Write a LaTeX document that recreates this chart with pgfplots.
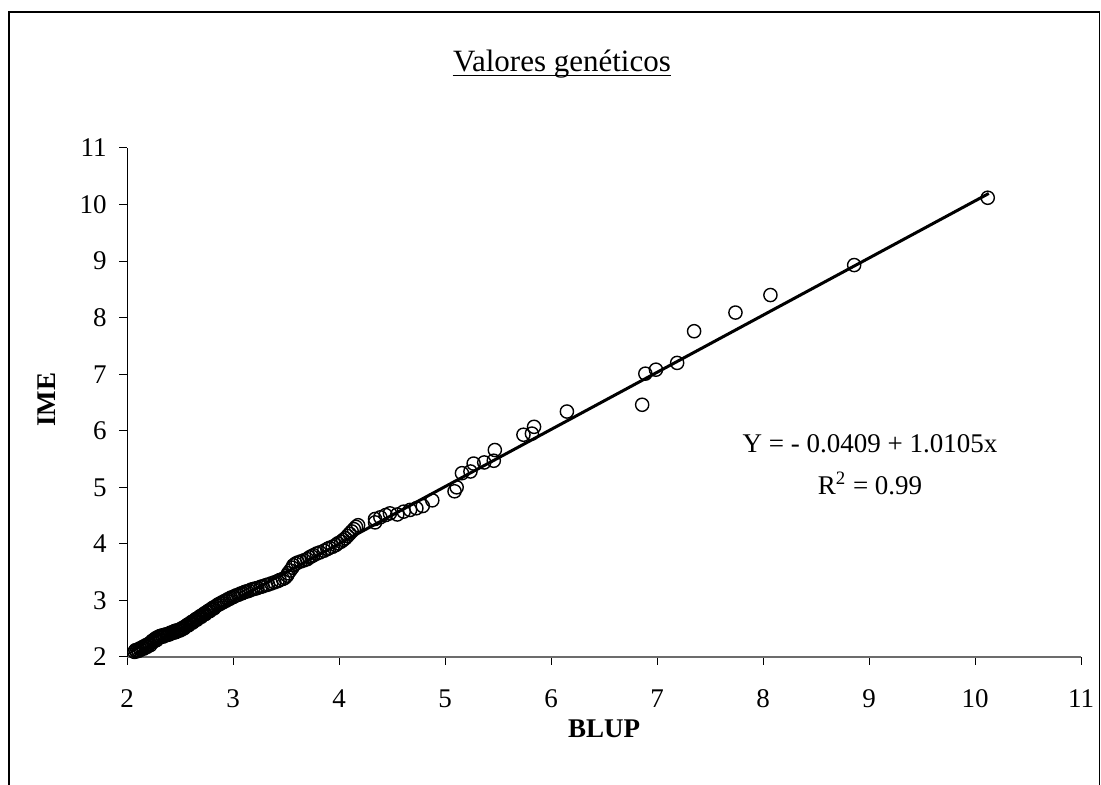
\documentclass[border=0pt]{standalone}
\usepackage{pgfplots}
\pgfplotsset{compat=1.18}
\usepackage{fontspec}
\setmainfont{Liberation Serif}

\begin{document}
\begin{tikzpicture}
\useasboundingbox (0,0) rectangle (550.5pt,392.5pt);
% frame (open at the bottom)
\draw[line width=0.8pt] (4.5pt,0) -- (4.5pt,386.5pt) -- (549.8pt,386.5pt) -- (549.8pt,0);

\begin{axis}[
  at={(63.5pt,64pt)}, anchor=south west,
  scale only axis,
  width=477pt, height=254.5pt,
  xmin=2, xmax=11, ymin=2, ymax=11,
  xtick={2,...,11}, ytick={2,...,11},
  axis lines=left,
  x axis line style={-, gray!85!black, line width=1pt},
  y axis line style={-, black, line width=0.5pt},
  tick align=outside,
  major tick length=4pt,
  every tick/.style={black, line width=0.5pt},
  tick label style={font=\fontsize{13.5}{16}\selectfont, inner sep=0pt},
  /pgf/number format/assume math mode=true,
  xticklabel style={anchor=base, yshift=-21.5pt},
  yticklabel style={anchor=east, xshift=-6pt},
  clip=false,
]
% regression line
\addplot[black, line width=1.5pt] coordinates {(2.07,2.051) (10.13,10.196)};
% observations
\addplot[only marks, mark=o, mark size=3.3pt, mark options={line width=0.7pt, black}]
  coordinates {
  (2.07,2.09) (2.08,2.12) (2.09,2.10) (2.10,2.13) (2.11,2.11) (2.12,2.15)
  (2.13,2.13) (2.14,2.16) (2.15,2.18) (2.16,2.15) (2.17,2.19) (2.18,2.21)
  (2.19,2.18) (2.20,2.22) (2.21,2.24) (2.22,2.21) (2.23,2.26) (2.24,2.29)
  (2.25,2.27) (2.26,2.31) (2.27,2.33) (2.28,2.30) (2.29,2.35) (2.30,2.34)
  (2.31,2.37) (2.32,2.36) (2.33,2.38) (2.34,2.36) (2.35,2.39) (2.36,2.38)
  (2.37,2.40) (2.38,2.39) (2.39,2.41) (2.40,2.40) (2.41,2.43) (2.42,2.42)
  (2.43,2.44) (2.44,2.43) (2.45,2.46) (2.46,2.44) (2.47,2.47) (2.48,2.46)
  (2.49,2.48) (2.50,2.47) (2.51,2.50) (2.52,2.49) (2.53,2.52) (2.54,2.51)
  (2.55,2.54) (2.56,2.55) (2.57,2.57) (2.58,2.56) (2.59,2.59) (2.60,2.60)
  (2.61,2.62) (2.62,2.61) (2.63,2.64) (2.64,2.65) (2.65,2.67) (2.66,2.66)
  (2.67,2.69) (2.68,2.70) (2.69,2.72) (2.70,2.71) (2.71,2.74) (2.72,2.75)
  (2.73,2.77) (2.74,2.76) (2.75,2.79) (2.76,2.80) (2.77,2.82) (2.78,2.81)
  (2.79,2.84) (2.80,2.85) (2.81,2.87) (2.82,2.86) (2.83,2.89) (2.85,2.91)
  (2.86,2.93) (2.88,2.94) (2.89,2.96) (2.91,2.97) (2.92,2.99) (2.94,3.00)
  (2.95,3.02) (2.97,3.03) (2.98,3.05) (3.00,3.06) (3.01,3.07) (3.03,3.09)
  (3.05,3.10) (3.07,3.12) (3.09,3.13) (3.11,3.15) (3.13,3.16) (3.15,3.17)
  (3.17,3.19) (3.19,3.20) (3.21,3.21) (3.23,3.22) (3.26,3.24) (3.28,3.25)
  (3.31,3.27) (3.33,3.28) (3.36,3.30) (3.39,3.32) (3.42,3.34) (3.44,3.36)
  (3.47,3.38) (3.49,3.40) (3.51,3.44) (3.52,3.48) (3.54,3.53) (3.56,3.58)
  (3.57,3.62) (3.59,3.65) (3.61,3.67) (3.64,3.69) (3.67,3.71) (3.70,3.73)
  (3.72,3.76) (3.74,3.78) (3.76,3.80) (3.79,3.83) (3.82,3.85) (3.86,3.88)
  (3.89,3.91) (3.91,3.93) (3.94,3.95) (3.97,3.98) (3.99,4.01) (4.02,4.04)
  (4.04,4.07) (4.06,4.10) (4.08,4.14) (4.10,4.18) (4.12,4.22) (4.14,4.26)
  (4.16,4.30) (4.18,4.33)
  (4.34,4.38) (4.34,4.44) (4.39,4.47) (4.44,4.51) (4.48,4.54) (4.55,4.52)
  (4.61,4.57) (4.67,4.60) (4.73,4.63) (4.79,4.67) (4.88,4.77)
  (5.09,4.93) (5.11,5.00) (5.16,5.25) (5.24,5.28) (5.27,5.42) (5.37,5.44)
  (5.46,5.47) (5.47,5.66) (5.74,5.93) (5.82,5.95) (5.84,6.07) (6.15,6.34)
  (6.86,6.46) (6.89,7.01) (6.99,7.08) (7.19,7.20) (7.35,7.76) (7.74,8.09)
  (8.07,8.40) (8.86,8.93) (10.12,10.12)
  };
\end{axis}

\node[anchor=base, inner sep=0pt, font=\fontsize{15.5}{18}\selectfont] (ttl) at (281pt,356.5pt) {Valores genéticos};
\draw[line width=0.6pt] ([yshift=-1.6pt]ttl.base west) -- ([yshift=-1.6pt]ttl.base east);
\node[font=\fontsize{13.5}{16}\selectfont\bfseries] at (302pt,28pt) {BLUP};
\node[font=\fontsize{13.5}{16}\selectfont\bfseries, rotate=90] at (23.5pt,192.5pt) {IME};
\node[anchor=base, font=\fontsize{13.5}{16}\selectfont] at (435pt,166pt) {Y = - 0.0409 + 1.0105x};
\node[anchor=base, font=\fontsize{13.5}{16}\selectfont] at (435pt,145pt) {R\textsuperscript{2} = 0.99};
\end{tikzpicture}
\end{document}
